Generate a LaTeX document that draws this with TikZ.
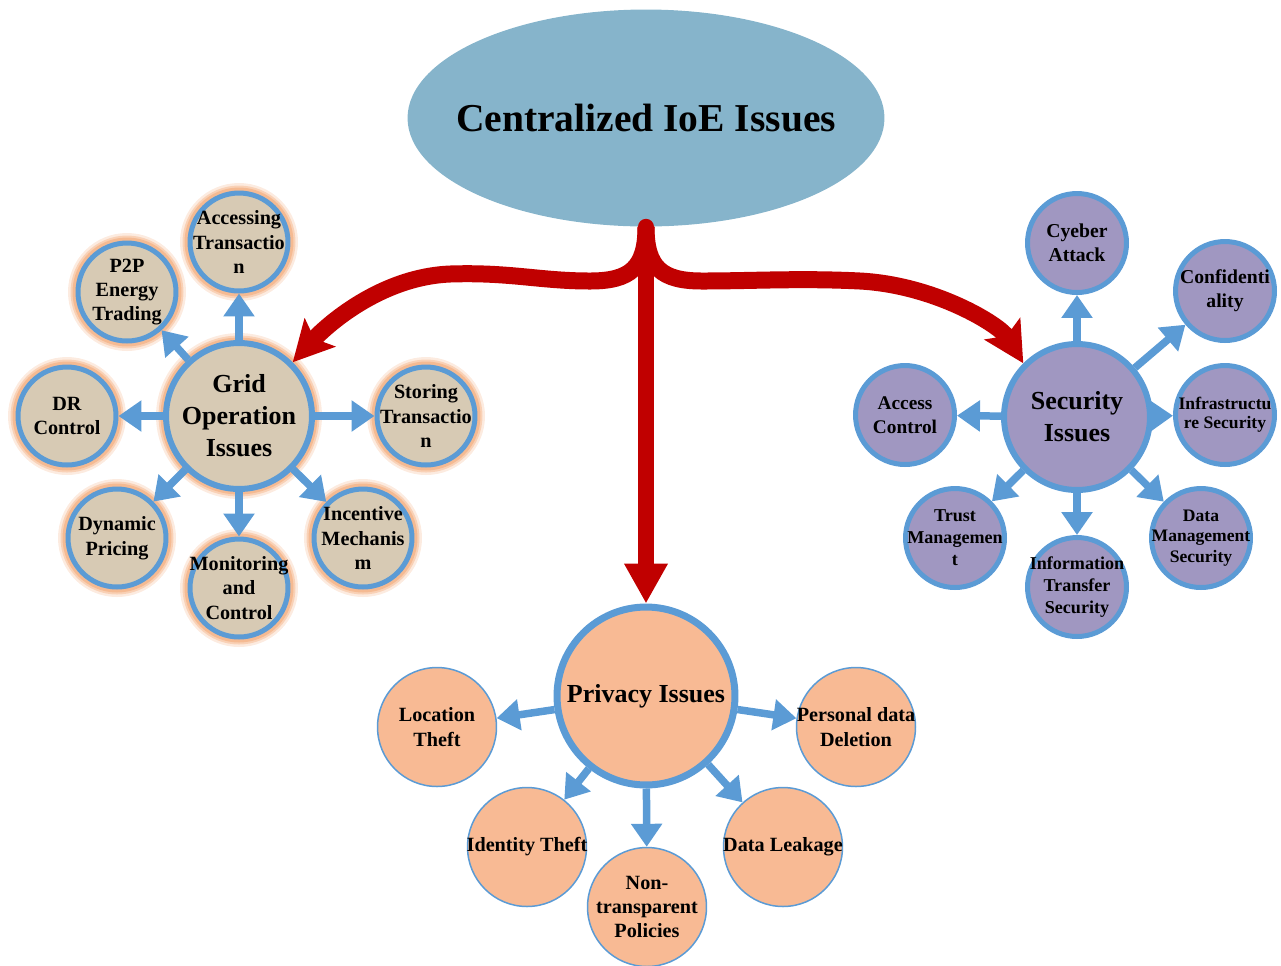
\documentclass[tikz,border=0pt]{standalone}
\usepackage{fontspec}
\setmainfont{Liberation Serif}
\usetikzlibrary{arrows.meta,shapes.geometric}
\definecolor{topc}{HTML}{86B4CB}
\definecolor{gridc}{HTML}{D7CAB4}
\definecolor{secc}{HTML}{A097C1}
\definecolor{privc}{HTML}{F8BA94}
\definecolor{bluec}{HTML}{5B9BD5}
\definecolor{redc}{HTML}{C00000}
\definecolor{glowc}{HTML}{F4B183}
\begin{document}
\begin{tikzpicture}[x=0.02cm,y=-0.02cm,
  lbl/.style={font=\bfseries\fontsize{11.5}{13.9}\selectfont, align=center, inner sep=0pt, text=black},
  biglbl/.style={font=\bfseries\fontsize{14.8}{18.2}\selectfont, align=center, inner sep=0pt, text=black},
  titlelbl/.style={font=\bfseries\fontsize{22.5}{27}\selectfont, inner sep=0pt, text=black},
  glow/.style={preaction={draw=glowc, line width=0.40cm, draw opacity=0.25},
               preaction={draw=glowc, line width=0.30cm, draw opacity=0.45},
               preaction={draw=glowc, line width=0.22cm, draw opacity=0.7}},
  gridhub/.style={circle, glow, fill=gridc, draw=bluec, line width=0.12cm, minimum size=2.92cm, inner sep=0pt},
  gridsat/.style={circle, glow, fill=gridc, draw=bluec, line width=0.1cm, minimum size=1.96cm, inner sep=0pt},
  sechub/.style={circle, fill=secc, draw=bluec, line width=0.12cm, minimum size=2.92cm, inner sep=0pt},
  secsat/.style={circle, fill=secc, draw=bluec, line width=0.1cm, minimum size=1.98cm, inner sep=0pt},
  privhub/.style={circle, fill=privc, draw=bluec, line width=0.14cm, minimum size=3.56cm, inner sep=0pt},
  privsat/.style={circle, fill=privc, draw=bluec, line width=0.03cm, minimum size=2.38cm, inner sep=0pt},
  barrow/.style={draw=bluec, line width=0.15cm, -{Triangle[length=0.46cm, width=0.6cm]}},
  redstem/.style={draw=redc, line width=0.32cm, line cap=round, -{Triangle[length=0.8cm, width=0.82cm]}},
  redbranch/.style={draw=redc, line width=0.34cm, -{Stealth[length=0.8cm, width=0.82cm, inset=0.16cm]}}
]
\useasboundingbox (0,0) rectangle (1281,965);

% title ellipse
\node[ellipse, fill=topc, minimum width=9.54cm, minimum height=4.34cm, inner sep=0pt,
      label={[titlelbl]center:Centralized IoE Issues}] (top) at (646,118) {};

% grid operation group
\node[gridhub, label={[biglbl]center:{Grid\\Operation\\Issues}}] (grid) at (239,416) {};
\node[gridsat, label={[lbl]center:{Accessing\\Transactio\\n}}] (gacc) at (239,242) {};
\node[gridsat, label={[lbl]center:{P2P\\Energy\\Trading}}] (gp2p) at (127,292) {};
\node[gridsat, label={[lbl]center:{DR\\Control}}] (gdr) at (67,416) {};
\node[gridsat, label={[lbl]center:{Dynamic\\Pricing}}] (gdyn) at (117,538) {};
\node[gridsat, label={[lbl]center:{Monitoring\\and\\Control}}] (gmon) at (239,588) {};
\node[gridsat, label={[lbl]center:{Incentive\\Mechanis\\m}}] (ginc) at (363,538) {};
\node[gridsat, label={[lbl]center:{Storing\\Transactio\\n}}] (gsto) at (426,416) {};

% security group
\node[sechub, label={[biglbl]center:{Security\\Issues}}] (sec) at (1077,417) {};
\node[secsat, label={[lbl,font=\bfseries\fontsize{11.2}{13.6}\selectfont]center:{Cyeber\\Attack}}] (scyb) at (1077,243) {};
\node[secsat, label={[lbl,font=\bfseries\fontsize{11.2}{13.6}\selectfont]center:{Confidenti\\ality}}] (scon) at (1225,291) {};
\node[secsat, label={[lbl,font=\bfseries\fontsize{10}{10.8}\selectfont]center:{Infrastructu\\re Security}}] (sinf) at (1225,415) {};
\node[secsat, label={[lbl,font=\bfseries\fontsize{10}{11.6}\selectfont]center:{Data\\Management\\Security}}] (sdat) at (1201,538) {};
\node[secsat, label={[lbl,font=\bfseries\fontsize{10.3}{12.5}\selectfont]center:{Information\\Transfer\\Security}}] (sift) at (1077,587) {};
\node[secsat, label={[lbl,font=\bfseries\fontsize{10.3}{12.5}\selectfont]center:{Trust\\Managemen\\t}}] (strm) at (955,538) {};
\node[secsat, label={[lbl,font=\bfseries\fontsize{11}{13.6}\selectfont]center:{Access\\Control}}] (sacc) at (905,415) {};

% privacy group
\node[privhub, label={[biglbl]center:Privacy Issues}] (priv) at (646,696) {};
\node[privsat, label={[lbl]center:{Location\\Theft}}] (ploc) at (437,727) {};
\node[privsat, label={[lbl]center:{Personal data\\Deletion}}] (ppdd) at (856,727) {};
\node[privsat, label={[lbl]center:{Identity Theft}}] (pidt) at (527,847) {};
\node[privsat, label={[lbl]center:{Non-\\transparent\\Policies}}] (pntp) at (647,907) {};
\node[privsat, label={[lbl]center:{Data Leakage}}] (pdlk) at (783,847) {};

% blue connectors
\foreach \s in {gacc,gp2p,gdr,gdyn,gmon,ginc,gsto} \draw[barrow] (grid) -- (\s);
\foreach \s in {scyb,scon,sinf,sdat,sift,strm,sacc} \draw[barrow] (sec) -- (\s);
\foreach \s in {ploc,ppdd,pidt,pntp,pdlk} \draw[barrow] (priv) -- (\s);

% red main connectors
\draw[redbranch] (top.south) .. controls (646,268) and (630,281) .. (590,281)
  .. controls (540,281) and (510,272) .. (450,274)
  .. controls (380,277) and (326,326) .. (grid.45);
\draw[redbranch] (top.south) .. controls (646,268) and (662,281) .. (702,281)
  .. controls (752,281) and (800,278) .. (860,281)
  .. controls (935,285) and (1000,325) .. (sec.135);
\draw[redstem] (top.south) -- (priv.north);
\end{tikzpicture}
\end{document}
